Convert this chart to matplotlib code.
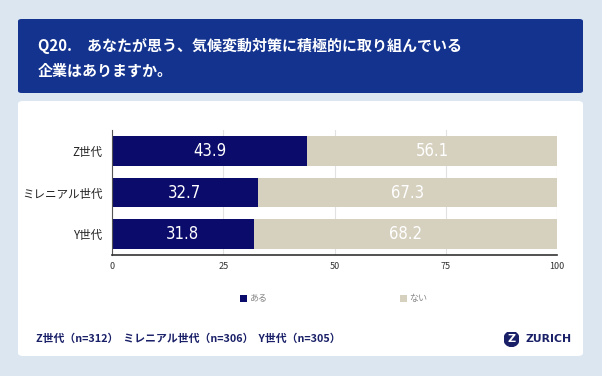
import matplotlib
matplotlib.use("Agg")
import matplotlib.pyplot as plt
from matplotlib.patches import FancyBboxPatch, Rectangle, Circle

plt.rcParams['font.family'] = ['Noto Sans CJK JP', 'DejaVu Sans']

categories = ["Z世代", "ミレニアル世代", "Y世代"]
aru = [43.9, 32.7, 31.8]
nai = [56.1, 67.3, 68.2]
series_names = ["ある", "ない"]
xticks = [0, 25, 50, 75, 100]
title_lines = ["Q20.　あなたが思う、気候変動対策に積極的に取り組んでいる", "企業はありますか。"]
footer = "Z世代（n=312）  ミレニアル世代（n=306）  Y世代（n=305）"

W, H = 602, 376
fig = plt.figure(figsize=(W/100, H/100), dpi=100)
fig.patch.set_facecolor('#dce6f1')

def fx(x): return x / W
def fy(y): return 1 - y / H

# header box
fig.patches.append(FancyBboxPatch((fx(18), fy(93)), fx(565), 74/H,
    boxstyle="round,pad=0,rounding_size=0.006", transform=fig.transFigure,
    facecolor='#13338f', edgecolor='none', zorder=-10))
# white panel
fig.patches.append(FancyBboxPatch((fx(18), fy(356)), fx(565), 255/H,
    boxstyle="round,pad=0,rounding_size=0.008", transform=fig.transFigure,
    facecolor='white', edgecolor='none', zorder=-10))

fig.text(fx(38), fy(46), title_lines[0], color='white', fontsize=10.8, va='center', ha='left', fontweight='bold')
fig.text(fx(38), fy(71), title_lines[1], color='white', fontsize=10.8, va='center', ha='left', fontweight='bold')

ax = fig.add_axes([fx(112), fy(255), fx(557-112), (255-130)/H])
ax.set_facecolor('none')
navy = '#0b0b6b'
beige = '#d6d0bf'
ypos = list(range(len(categories)))
ax.barh(ypos, aru, height=0.71, color=navy, zorder=2)
ax.barh(ypos, nai, left=aru, height=0.71, color=beige, zorder=2)
for i in ypos:
    ax.text(aru[i]/2, i, f"{aru[i]:.1f}", color='white', ha='center', va='center',
            fontsize=12, family='DejaVu Sans', fontstretch='condensed', zorder=3)
    ax.text(aru[i] + nai[i]/2, i, f"{nai[i]:.1f}", color='white', ha='center', va='center',
            fontsize=12, family='DejaVu Sans', fontstretch='condensed', zorder=3)
ax.set_xlim(0, 100)
ax.set_ylim(2.5, -0.5)
ax.set_yticks(ypos)
ax.set_yticklabels(categories, fontsize=8.3, color='#222222')
ax.set_xticks(xticks)
ax.set_xticklabels([str(t) for t in xticks], fontsize=6.5, color='#333333')
ax.tick_params(axis='both', length=0, pad=5)
ax.tick_params(axis='y', pad=7)
ax.grid(axis='x', color='#e2e2e2', linewidth=0.8, zorder=0)
for s in ['top', 'right']:
    ax.spines[s].set_visible(False)
ax.spines['left'].set_color('#555555')
ax.spines['bottom'].set_color('#333333')
ax.spines['left'].set_linewidth(0.8)
ax.spines['bottom'].set_linewidth(1.2)

# legend
for x0, c, name in [(243, navy, series_names[0]), (403, beige, series_names[1])]:
    fig.patches.append(Rectangle((fx(x0-3.5), fy(301.5)), fx(7), 7/H, transform=fig.transFigure,
                                 facecolor=c, edgecolor='none'))
    fig.text(fx(x0+6), fy(298), name, fontsize=6.5, color='#888888', va='center', ha='left')

fig.text(fx(36), fy(339), footer, fontsize=7.8, color='#1a2068', fontweight='bold', va='center', ha='left')

# Zurich logo
ax_logo = fig.add_axes([fx(504), fy(346.5), fx(15), 15/H])
ax_logo.set_xlim(-1, 1); ax_logo.set_ylim(-1, 1); ax_logo.axis('off'); ax_logo.set_aspect('equal')
ax_logo.add_patch(Circle((0, 0), 1, color='#1a2068'))
ax_logo.text(0, -0.05, "Z", color='white', fontsize=8, fontweight='bold', ha='center', va='center', family='DejaVu Sans')
fig.text(fx(526), fy(339), "ZURICH", fontsize=7.8, color='#1a2068', fontweight='bold', va='center', ha='left', family='DejaVu Sans')

fig.savefig('out.png', dpi=100, facecolor=fig.get_facecolor())
